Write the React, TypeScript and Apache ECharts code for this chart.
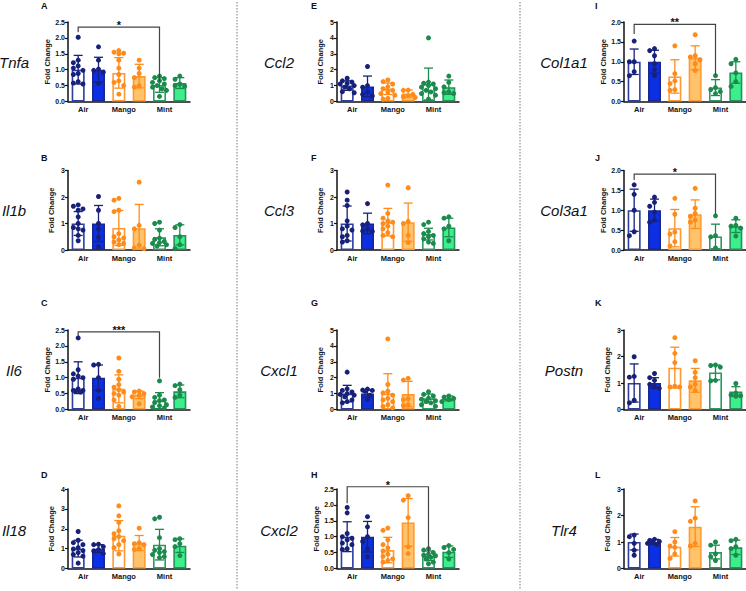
import React, { useEffect, useRef } from "react";
import * as echarts from "echarts";

// ---------- data ----------
const genes = ["Tnfa", "Il1b", "Il6", "Il18", "Ccl2", "Ccl3", "Cxcl1", "Cxcl2", "Col1a1", "Col3a1", "Postn", "Tlr4"];
const letters = ["A", "B", "C", "D", "E", "F", "G", "H", "I", "J", "K", "L"];
const conditions = ["Air", "Air+", "Mango", "Mango+", "Mint", "Mint+"];
const groupLabels = ["Air", "", "Mango", "", "Mint", ""];
const yMax = [2.5, 3, 2.5, 4, 5, 3, 5, 2.5, 2, 2, 3, 3];
const yStep = [0.5, 1, 0.5, 1, 1, 1, 1, 0.5, 0.5, 0.5, 1, 1];

const tnfaMean = [1.0, 1.0, 0.9, 0.8, 0.52, 0.58];
const tnfaSd = [0.45, 0.39, 0.48, 0.37, 0.23, 0.17];
const tnfaPts = [
  [2.02, 1.3, 1.22, 1.12, 1.05, 0.98, 0.88, 0.85, 0.62, 0.58, 0.55],
  [1.72, 1.3, 1.02, 0.98, 0.92, 0.57],
  [1.6, 1.55, 1.52, 1.5, 1.3, 1.05, 0.85, 0.65, 0.6, 0.5, 0.23],
  [1.3, 1.05, 0.88, 0.75, 0.5, 0.45],
  [0.8, 0.75, 0.72, 0.65, 0.6, 0.55, 0.5, 0.45, 0.4, 0.35, 0.16],
  [0.8, 0.7, 0.55, 0.5, 0.48],
];

const il1bMean = [1.0, 1.0, 0.83, 0.82, 0.48, 0.57];
const il1bSd = [0.45, 0.68, 0.66, 0.9, 0.32, 0.38];
const il1bPts = [
  [1.7, 1.65, 1.55, 1.5, 1.25, 1.0, 0.85, 0.8, 0.75, 0.55, 0.35],
  [2.02, 1.5, 1.0, 0.8, 0.48, 0.13],
  [1.95, 1.88, 1.5, 1.45, 0.62, 0.5, 0.45, 0.38, 0.3, 0.25, 0.2],
  [2.56, 0.93, 0.8, 0.18, 0.08, 0.05],
  [1.05, 1.0, 0.75, 0.45, 0.4, 0.32, 0.28, 0.25, 0.2, 0.15],
  [0.96, 0.85, 0.5, 0.2, 0.05],
];

const il6Mean = [1.0, 1.0, 0.65, 0.46, 0.28, 0.57];
const il6Sd = [0.5, 0.4, 0.44, 0.12, 0.25, 0.2];
const il6Pts = [
  [2.25, 1.25, 1.12, 1.05, 1.0, 0.95, 0.65, 0.6, 0.6, 0.58, 0.55],
  [1.42, 1.4, 1.0, 0.6, 0.35],
  [1.62, 1.2, 0.95, 0.78, 0.7, 0.62, 0.55, 0.5, 0.45, 0.3, 0.1],
  [0.58, 0.55, 0.5, 0.45, 0.4, 0.18],
  [0.9, 0.45, 0.38, 0.3, 0.28, 0.22, 0.15, 0.12, 0.08, 0.05],
  [0.8, 0.75, 0.62, 0.45, 0.38],
];

const il18Mean = [1.0, 1.0, 1.65, 1.28, 1.2, 1.15];
const il18Sd = [0.42, 0.2, 0.76, 0.38, 0.77, 0.34];
const il18Pts = [
  [1.86, 1.42, 1.3, 1.2, 1.05, 0.98, 0.9, 0.8, 0.7, 0.62, 0.27],
  [1.22, 1.2, 1.1, 0.95, 0.88, 0.75],
  [3.15, 2.65, 2.32, 1.9, 1.75, 1.6, 1.5, 1.4, 1.2, 1.05, 0.73],
  [2.03, 1.3, 1.25, 1.2, 1.0, 0.95],
  [2.58, 2.5, 1.55, 1.0, 0.92, 0.85, 0.8, 0.7, 0.6, 0.55],
  [1.5, 1.45, 1.25, 1.1, 0.65],
];

const ccl2Mean = [1.0, 0.95, 0.8, 0.5, 1.1, 0.9];
const ccl2Sd = [0.3, 0.65, 0.36, 0.22, 1.0, 0.45];
const ccl2Pts = [
  [1.46, 1.3, 1.22, 1.15, 1.1, 1.0, 0.9, 0.8, 0.62, 0.55],
  [2.2, 1.0, 0.9, 0.6, 0.45, 0.35],
  [1.35, 1.25, 1.1, 0.92, 0.8, 0.7, 0.6, 0.5, 0.4, 0.2, 0.15],
  [0.72, 0.7, 0.45, 0.35, 0.3, 0.25],
  [4.0, 1.22, 1.15, 1.1, 1.0, 0.9, 0.8, 0.7, 0.6, 0.5, 0.4, 0.15],
  [1.6, 1.2, 0.92, 0.6, 0.55, 0.5],
];

const ccl3Mean = [1.0, 1.0, 1.05, 1.05, 0.6, 0.85];
const ccl3Sd = [0.66, 0.39, 0.52, 0.72, 0.22, 0.35];
const ccl3Pts = [
  [2.19, 1.88, 1.68, 1.1, 0.9, 0.8, 0.75, 0.55, 0.5, 0.35, 0.3],
  [1.75, 1.0, 0.95, 0.8, 0.72, 0.7],
  [2.45, 1.38, 1.2, 1.1, 1.05, 1.0, 0.9, 0.8, 0.65, 0.55, 0.5],
  [2.35, 1.08, 1.0, 0.55, 0.28],
  [1.05, 0.96, 0.7, 0.62, 0.55, 0.5, 0.42, 0.3, 0.25],
  [1.25, 1.2, 0.9, 0.8, 0.35],
];

const cxcl1Mean = [1.0, 1.0, 1.0, 0.97, 0.7, 0.7];
const cxcl1Sd = [0.52, 0.22, 1.25, 0.8, 0.27, 0.15];
const cxcl1Pts = [
  [2.35, 1.3, 1.2, 1.1, 1.0, 0.95, 0.9, 0.8, 0.6, 0.5, 0.42],
  [1.28, 1.22, 1.2, 1.15, 0.9, 0.62],
  [4.44, 1.58, 1.15, 1.05, 0.9, 0.7, 0.6, 0.5, 0.3, 0.2, 0.1],
  [1.96, 1.85, 0.68, 0.62, 0.3, 0.25],
  [1.12, 0.95, 0.85, 0.72, 0.65, 0.55, 0.5, 0.42, 0.3, 0.2],
  [0.85, 0.78, 0.7, 0.62, 0.5],
];

const cxcl2Mean = [1.0, 1.0, 0.58, 1.45, 0.4, 0.53];
const cxcl2Sd = [0.47, 0.48, 0.4, 0.75, 0.15, 0.18];
const cxcl2Pts = [
  [1.92, 1.75, 1.1, 1.0, 0.95, 0.9, 0.8, 0.75, 0.62, 0.6],
  [1.63, 1.31, 1.0, 0.85, 0.62, 0.37],
  [1.27, 1.2, 0.9, 0.75, 0.65, 0.55, 0.45, 0.38, 0.3, 0.25, 0.2],
  [2.29, 2.15, 1.6, 0.68, 0.47],
  [0.62, 0.58, 0.5, 0.45, 0.42, 0.4, 0.35, 0.3, 0.2, 0.15],
  [0.72, 0.66, 0.6, 0.5, 0.3],
];

const col1a1Mean = [1.0, 1.0, 0.63, 1.1, 0.35, 0.73];
const col1a1Sd = [0.32, 0.29, 0.42, 0.3, 0.2, 0.27];
const col1a1Pts = [
  [1.52, 1.0, 1.0, 0.75, 0.65],
  [1.33, 1.28, 1.15, 0.95, 0.8, 0.65],
  [1.4, 0.7, 0.52, 0.45, 0.3, 0.28],
  [1.68, 1.15, 1.12, 1.05, 0.95, 0.78],
  [0.65, 0.35, 0.3, 0.25, 0.2],
  [1.06, 0.95, 0.72, 0.5, 0.38],
];

const col3a1Mean = [1.0, 1.0, 0.55, 0.9, 0.34, 0.6];
const col3a1Sd = [0.53, 0.28, 0.47, 0.36, 0.31, 0.16];
const col3a1Pts = [
  [1.64, 1.4, 1.0, 0.46, 0.36],
  [1.33, 1.2, 1.1, 0.95, 0.75, 0.7],
  [1.3, 0.9, 0.45, 0.4, 0.21, 0.1],
  [1.55, 1.05, 0.92, 0.85, 0.75, 0.7],
  [0.86, 0.36, 0.33, 0.05],
  [0.8, 0.62, 0.6, 0.55, 0.35],
];

const postnMean = [1.0, 1.0, 1.58, 1.1, 1.4, 0.68];
const postnSd = [0.72, 0.2, 0.77, 0.45, 0.28, 0.18];
const postnPts = [
  [1.99, 1.25, 1.22, 0.35, 0.25],
  [1.36, 1.2, 1.1, 0.95, 0.85, 0.8],
  [2.71, 2.12, 1.77, 0.88, 0.85, 0.85],
  [1.84, 1.4, 1.2, 0.95, 0.85, 0.72],
  [1.68, 1.66, 1.6, 1.1, 1.08],
  [0.98, 0.62, 0.55, 0.52, 0.5],
];

const tlr4Mean = [1.0, 1.0, 0.82, 1.58, 0.62, 0.8];
const tlr4Sd = [0.3, 0.1, 0.35, 0.75, 0.26, 0.27];
const tlr4Pts = [
  [1.26, 1.2, 0.95, 0.69, 0.5],
  [1.1, 1.06, 1.02, 0.98, 0.95, 0.9],
  [1.39, 1.0, 0.85, 0.8, 0.55, 0.38],
  [2.55, 1.9, 1.78, 0.95, 0.85],
  [1.0, 0.88, 0.55, 0.45, 0.3],
  [1.1, 1.05, 0.82, 0.75, 0.5],
];

// significance brackets: panel, from bar, to bar, line level, left leg end, right leg end, stars
const brackets = [
  { panel: 0, from: 0, to: 4, level: 2.34, leftEnd: 2.18, rightEnd: 0.62, stars: "*" },
  { panel: 2, from: 0, to: 4, level: 2.44, leftEnd: 2.3, rightEnd: 1.0, stars: "***" },
  { panel: 7, from: 0, to: 4, level: 2.57, leftEnd: 2.05, rightEnd: 0.5, stars: "*" },
  { panel: 8, from: 0, to: 4, level: 1.94, leftEnd: 1.7, rightEnd: 0.67, stars: "**" },
  { panel: 9, from: 0, to: 4, level: 1.91, leftEnd: 1.76, rightEnd: 0.9, stars: "*" },
];

const means = [tnfaMean, il1bMean, il6Mean, il18Mean, ccl2Mean, ccl3Mean, cxcl1Mean, cxcl2Mean, col1a1Mean, col3a1Mean, postnMean, tlr4Mean];
const sds = [tnfaSd, il1bSd, il6Sd, il18Sd, ccl2Sd, ccl3Sd, cxcl1Sd, cxcl2Sd, col1a1Sd, col3a1Sd, postnSd, tlr4Sd];
const points = [tnfaPts, il1bPts, il6Pts, il18Pts, ccl2Pts, ccl3Pts, cxcl1Pts, cxcl2Pts, col1a1Pts, col3a1Pts, postnPts, tlr4Pts];

// ---------- layout & style ----------
const COLS = [68, 337, 624];
const ROWS = [22, 170.5, 330, 489];
const GW = 122;
const GH = 79.5;
const FONT = "Liberation Sans";
const barFill = ["#ffffff", "#0b2fe3", "#ffffff", "#ffc46b", "#ffffff", "#3def8b"];
const barBorder = ["#2d3e9e", "#1a2790", "#ff9933", "#ff9a33", "#2b9960", "#22925a"];
const dotColor = ["#18217a", "#18217a", "#ff8c1a", "#ff8c1a", "#1c8a4d", "#1c8a4d"];
const AX = "#111111";

function swarm(vals: number[], pxPerUnit: number): number[] {
  const d = 4.8;
  const placed: { x: number; y: number }[] = [];
  const order = vals.map((_, i) => i).sort((a, b) => vals[b] - vals[a]);
  const dx = new Array(vals.length).fill(0);
  const cands = [0, -4.8, 4.8, -2.4, 2.4, -7, 7];
  for (const i of order) {
    const y = vals[i] * pxPerUnit;
    let best = 0;
    let bestScore = -1;
    for (const c of cands) {
      let minD = Infinity;
      for (const p of placed) minD = Math.min(minD, Math.hypot(p.x - c, p.y - y));
      if (minD >= d) { best = c; bestScore = Infinity; break; }
      if (minD > bestScore) { bestScore = minD; best = c; }
    }
    placed.push({ x: best, y });
    dx[i] = best;
  }
  return dx;
}

function buildOption() {
  const grid: any[] = [];
  const xAxis: any[] = [];
  const yAxis: any[] = [];
  const series: any[] = [];
  const graphic: any[] = [];

  for (let p = 0; p < 12; p++) {
    const c = Math.floor(p / 4);
    const r = p % 4;
    grid.push({ left: COLS[c], top: ROWS[r], width: GW, height: GH });
    xAxis.push({
      type: "category",
      gridIndex: p,
      data: conditions,
      axisLine: { lineStyle: { color: AX, width: 1.5 } },
      axisTick: { alignWithLabel: true, interval: 0, length: 3, lineStyle: { color: AX, width: 1.2 } },
      axisLabel: {
        interval: 0,
        margin: 4,
        formatter: (_v: string, i: number) => (groupLabels[i] ? `{s|${groupLabels[i]}}` : ""),
        rich: { s: { fontSize: 7.5, fontWeight: "bold", color: AX, fontFamily: FONT, padding: [0, 0, 0, 10] } },
      },
    });
    const step = yStep[p];
    yAxis.push({
      type: "value",
      gridIndex: p,
      min: 0,
      max: yMax[p],
      interval: step,
      axisLine: { show: true, lineStyle: { color: AX, width: 1.5 } },
      axisTick: { show: true, length: 3, lineStyle: { color: AX, width: 1.2 } },
      splitLine: { show: false },
      axisLabel: {
        fontSize: 7,
        fontWeight: "bold",
        color: AX,
        fontFamily: FONT,
        margin: 3,
        formatter: (v: number) => (step < 1 ? v.toFixed(1) : String(v)),
      },
      name: "Fold Change",
      nameLocation: "middle",
      nameGap: 13,
      nameTextStyle: { fontSize: 7.5, fontWeight: "bold", color: AX, fontFamily: FONT },
    });

    series.push({
      type: "bar",
      xAxisIndex: p,
      yAxisIndex: p,
      barWidth: 13,
      silent: true,
      z: 2,
      data: means[p].map((m, i) => ({
        value: m,
        itemStyle: { color: barFill[i], borderColor: barBorder[i], borderWidth: 1.6 },
      })),
    });

    series.push({
      type: "custom",
      xAxisIndex: p,
      yAxisIndex: p,
      silent: true,
      z: 3,
      data: means[p].map((m, i) => [i, m, sds[p][i]]),
      renderItem: (_params: any, api: any) => {
        const i = api.value(0);
        const m = api.value(1);
        const s = api.value(2);
        const top = api.coord([i, m + s]);
        const low = Math.max(0, m - s);
        const bot = api.coord([i, low]);
        const x = top[0];
        const hw = 4.5;
        const st = { stroke: dotColor[i], lineWidth: 1.3 };
        const children: any[] = [
          { type: "line", shape: { x1: x, y1: top[1], x2: x, y2: bot[1] }, style: st },
          { type: "line", shape: { x1: x - hw, y1: top[1], x2: x + hw, y2: top[1] }, style: st },
        ];
        if (low > 0) children.push({ type: "line", shape: { x1: x - hw, y1: bot[1], x2: x + hw, y2: bot[1] }, style: st });
        return { type: "group", children };
      },
    });

    const pxPerUnit = GH / yMax[p];
    const ptData: number[][] = [];
    points[p].forEach((vals, gi) => {
      const dx = swarm(vals, pxPerUnit);
      vals.forEach((v, k) => ptData.push([gi, v, dx[k]]));
    });
    series.push({
      type: "custom",
      xAxisIndex: p,
      yAxisIndex: p,
      silent: true,
      z: 4,
      data: ptData,
      renderItem: (_params: any, api: any) => {
        const gi = api.value(0);
        const pt = api.coord([gi, api.value(1)]);
        return {
          type: "circle",
          shape: { cx: pt[0] + api.value(2), cy: pt[1], r: 2.5 },
          style: { fill: dotColor[gi] },
        };
      },
    });

    const br = brackets.filter((b) => b.panel === p);
    if (br.length) {
      series.push({
        type: "custom",
        xAxisIndex: p,
        yAxisIndex: p,
        silent: true,
        clip: false,
        z: 5,
        data: br.map((b) => [b.from, b.to, b.level, b.leftEnd, b.rightEnd]),
        renderItem: (params: any, api: any) => {
          const b = br[params.dataIndex];
          const a1 = api.coord([api.value(0), api.value(3)]);
          const a2 = api.coord([api.value(0), api.value(2)]);
          const b2 = api.coord([api.value(1), api.value(2)]);
          const b1 = api.coord([api.value(1), api.value(4)]);
          return {
            type: "group",
            children: [
              {
                type: "polyline",
                shape: { points: [a1, a2, b2, b1] },
                style: { stroke: "#444444", lineWidth: 1.2, fill: null },
              },
              {
                type: "text",
                style: {
                  text: b.stars,
                  x: (a2[0] + b2[0]) / 2,
                  y: a2[1] - 2,
                  align: "center",
                  verticalAlign: "middle",
                  fill: "#111111",
                  fontSize: 11,
                  fontWeight: "bold",
                  fontFamily: FONT,
                },
              },
            ],
          };
        },
      });
    }
  }

  const geneX = [14, 279, 564];
  const geneY = [62, 210, 370, 530];
  const letterX = [41, 311, 595];
  const letterY = [6, 158, 303, 475];
  for (let p = 0; p < 12; p++) {
    const c = Math.floor(p / 4);
    const r = p % 4;
    graphic.push({
      type: "text",
      x: geneX[c],
      y: geneY[r],
      style: {
        text: genes[p],
        align: "center",
        verticalAlign: "middle",
        fill: "#111111",
        fontSize: 15,
        fontStyle: "italic",
        fontFamily: FONT,
      },
    });
    graphic.push({
      type: "text",
      x: letterX[c],
      y: letterY[r],
      style: {
        text: letters[p],
        align: "left",
        verticalAlign: "middle",
        fill: "#111111",
        fontSize: 9,
        fontWeight: "bold",
        fontFamily: FONT,
      },
    });
  }
  [237, 520].forEach((x) => {
    graphic.push({
      type: "line",
      shape: { x1: x, y1: 2, x2: x, y2: 589 },
      style: { stroke: "#777777", lineWidth: 1, lineDash: [1.5, 1.5] },
    });
  });

  return {
    animation: false,
    backgroundColor: "#ffffff",
    textStyle: { fontFamily: FONT },
    grid,
    xAxis,
    yAxis,
    series,
    graphic,
  };
}

export default function App() {
  const ref = useRef<HTMLDivElement>(null);
  useEffect(() => {
    const chart = echarts.init(ref.current!, null, { renderer: "svg" });
    chart.setOption(buildOption() as any);
    return () => chart.dispose();
  }, []);
  return (
    <div
      ref={ref}
      style={{ position: "fixed", left: 0, top: 0, width: 746, height: 591, background: "#fff" }}
    />
  );
}
